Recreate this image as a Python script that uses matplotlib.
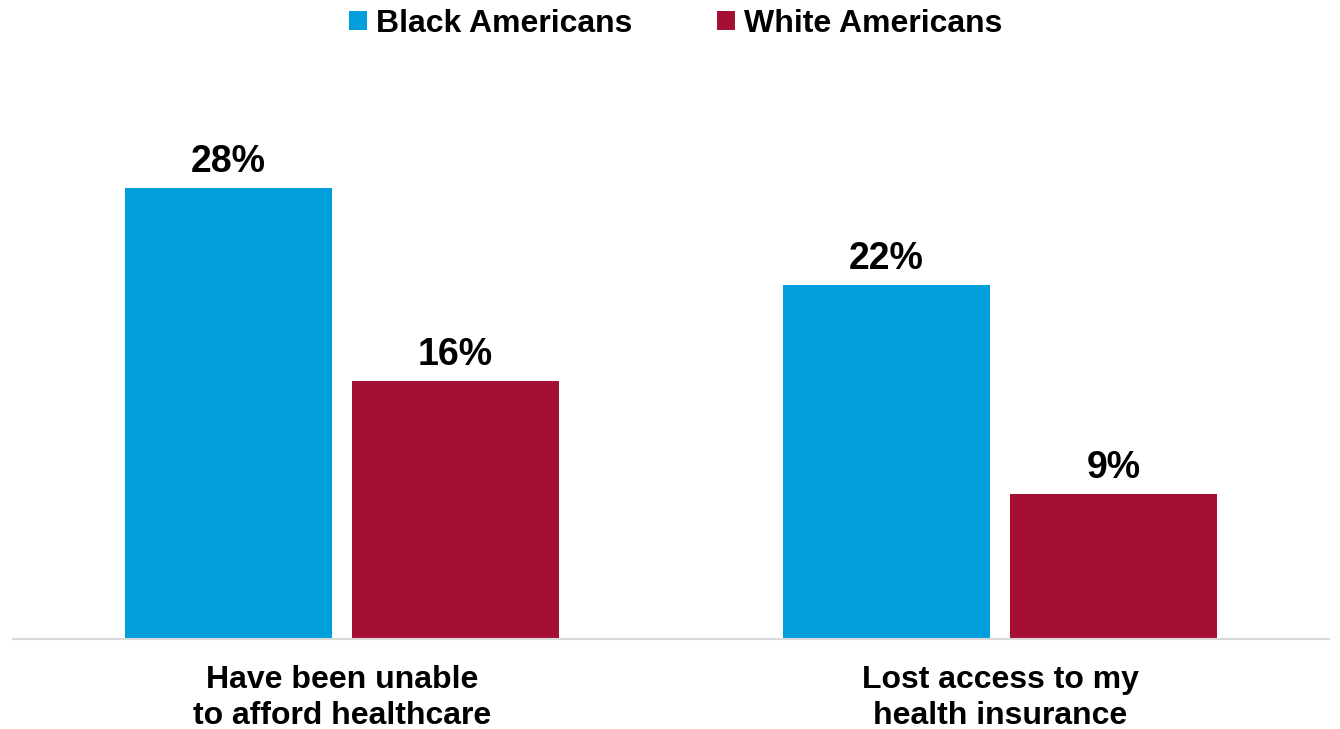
import matplotlib
matplotlib.use("Agg")
import matplotlib.pyplot as plt
import numpy as np
from matplotlib.patches import Patch

categories = ["Have been unable\nto afford healthcare", "Lost access to my\nhealth insurance"]
series_names = ["Black Americans", "White Americans"]
black_values = [28, 22]
white_values = [16, 9]
colors = ["#009FDB", "#A50F34"]

plt.rcParams['font.family'] = ['Liberation Sans', 'DejaVu Sans']

fig = plt.figure(figsize=(13.4, 7.29), dpi=100)
ax = fig.add_axes([13/1340, 90/729, 1316/1340, 30*16.1/729])

x = np.arange(len(categories))
w = 0.315
off = w/2 + 0.0152
for vals, dx, c in [(black_values, -off, colors[0]), (white_values, off, colors[1])]:
    bars = ax.bar(x + dx, vals, width=w, color=c, zorder=2)
    for b, v in zip(bars, vals):
        ax.annotate(f"{v}%", (b.get_x() + b.get_width()/2, v), xytext=(0, 11.5),
                    textcoords="offset points", ha="center", va="baseline",
                    fontsize=27, fontweight="bold", color="black")

ax.set_xlim(-0.5, 1.5)
ax.set_ylim(0, 30)
ax.set_xticks(x)
ax.set_xticklabels(categories, fontsize=23, fontweight="bold", linespacing=1.25)
ax.tick_params(axis="x", length=0, pad=19)
ax.set_yticks([])
for s in ["top", "right", "left"]:
    ax.spines[s].set_visible(False)
ax.spines["bottom"].set_color("#D9D9D9")
ax.spines["bottom"].set_linewidth(1.5)

handles = [Patch(facecolor=colors[0]), Patch(facecolor=colors[1])]
leg = fig.legend(handles, series_names, loc="upper center", bbox_to_anchor=(676/1340, 1.027),
                 ncol=2, frameon=False, handlelength=0.55, handleheight=0.55,
                 handletextpad=0.3, columnspacing=2.64,
                 prop={"family": "Liberation Sans", "weight": "bold", "size": 23})

fig.savefig("out.png", dpi=100)
